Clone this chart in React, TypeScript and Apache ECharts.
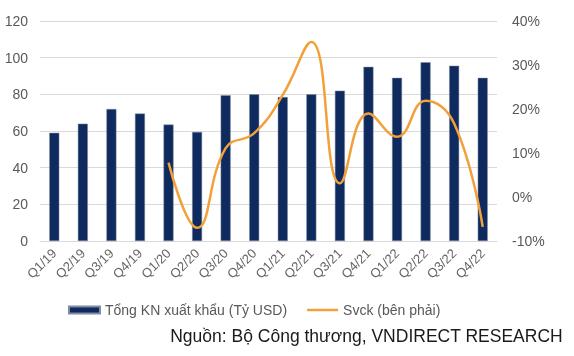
import React, { useEffect, useRef } from "react";
import * as echarts from "echarts";

const categories = ["Q1/19","Q2/19","Q3/19","Q4/19","Q1/20","Q2/20","Q3/20","Q4/20","Q1/21","Q2/21","Q3/21","Q4/21","Q1/22","Q2/22","Q3/22","Q4/22"];
const exportValues = [59, 64, 72, 69.5, 63.5, 59.5, 79.5, 80, 78.5, 80, 82, 95, 89, 97.5, 95.6, 89];
const yoyGrowth = [null, null, null, null, 7.8, -7, 11.1, 14.5, 23.2, 35.2, 3.1, 19, 13.7, 21.9, 16.7, -6.8];
const leftTicks = [0, 20, 40, 60, 80, 100, 120];
const rightTicks = [-10, 0, 10, 20, 30, 40];

const BAR_NAME = "Tổng KN xuất khẩu (Tỷ USD)";
const LINE_NAME = "Svck (bên phải)";
const SOURCE = "Nguồn: Bộ Công thương, VNDIRECT RESEARCH";

export default function App() {
  const ref = useRef<HTMLDivElement>(null);
  useEffect(() => {
    if (!ref.current) return;
    const chart = echarts.init(ref.current, null, { renderer: "svg" });
    const font = "Liberation Sans, Arial, sans-serif";
    chart.setOption({
      animation: false,
      textStyle: { fontFamily: font },
      grid: { left: 40, right: 77, top: 21, bottom: 115, containLabel: false },
      legend: {
        top: 298,
        left: 63,
        itemGap: 20,
        itemWidth: 31,
        itemHeight: 7,
        textStyle: { color: "#595959", fontSize: 14, fontFamily: font },
        data: [
          { name: BAR_NAME, icon: "rect" },
          { name: LINE_NAME, icon: "path://M0,0 L30,0 L30,2.4 L0,2.4 Z" },
        ],
      },
      xAxis: {
        type: "category",
        data: categories,
        axisTick: { show: false },
        axisLine: { lineStyle: { color: "#d9d9d9" } },
        axisLabel: { rotate: 45, color: "#666666", fontSize: 13, interval: 0, margin: 10 },
      },
      yAxis: [
        {
          type: "value",
          min: leftTicks[0],
          max: leftTicks[leftTicks.length - 1],
          interval: 20,
          axisLabel: { color: "#595959", fontSize: 14, margin: 12 },
          splitLine: { lineStyle: { color: "#d9d9d9" } },
          axisLine: { show: false },
          axisTick: { show: false },
        },
        {
          type: "value",
          min: rightTicks[0],
          max: rightTicks[rightTicks.length - 1],
          interval: 10,
          position: "right",
          axisLabel: { color: "#595959", fontSize: 14, margin: 15, formatter: (v: number) => v + "%" },
          splitLine: { show: false },
          axisLine: { show: false },
          axisTick: { show: false },
        },
      ],
      series: [
        {
          name: BAR_NAME,
          type: "bar",
          data: exportValues,
          barWidth: "35%",
          itemStyle: { color: "#0e2a5e", borderColor: "#7f8ba0", borderWidth: 0.5 },
        },
        {
          name: LINE_NAME,
          type: "line",
          yAxisIndex: 1,
          data: yoyGrowth,
          smooth: 0.45,
          showSymbol: false,
          symbol: "none",
          lineStyle: { color: "#f2a03a", width: 2.5 },
          itemStyle: { color: "#f2a03a" },
        },
      ],
      graphic: [
        {
          type: "text",
          right: 11,
          top: 327,
          style: { text: SOURCE, fill: "#1a1a1a", fontSize: 17.5, fontFamily: font },
        },
      ],
    });
    return () => chart.dispose();
  }, []);
  return <div ref={ref} style={{ position: "fixed", left: 0, top: 0, width: 574, height: 356 }} />;
}
